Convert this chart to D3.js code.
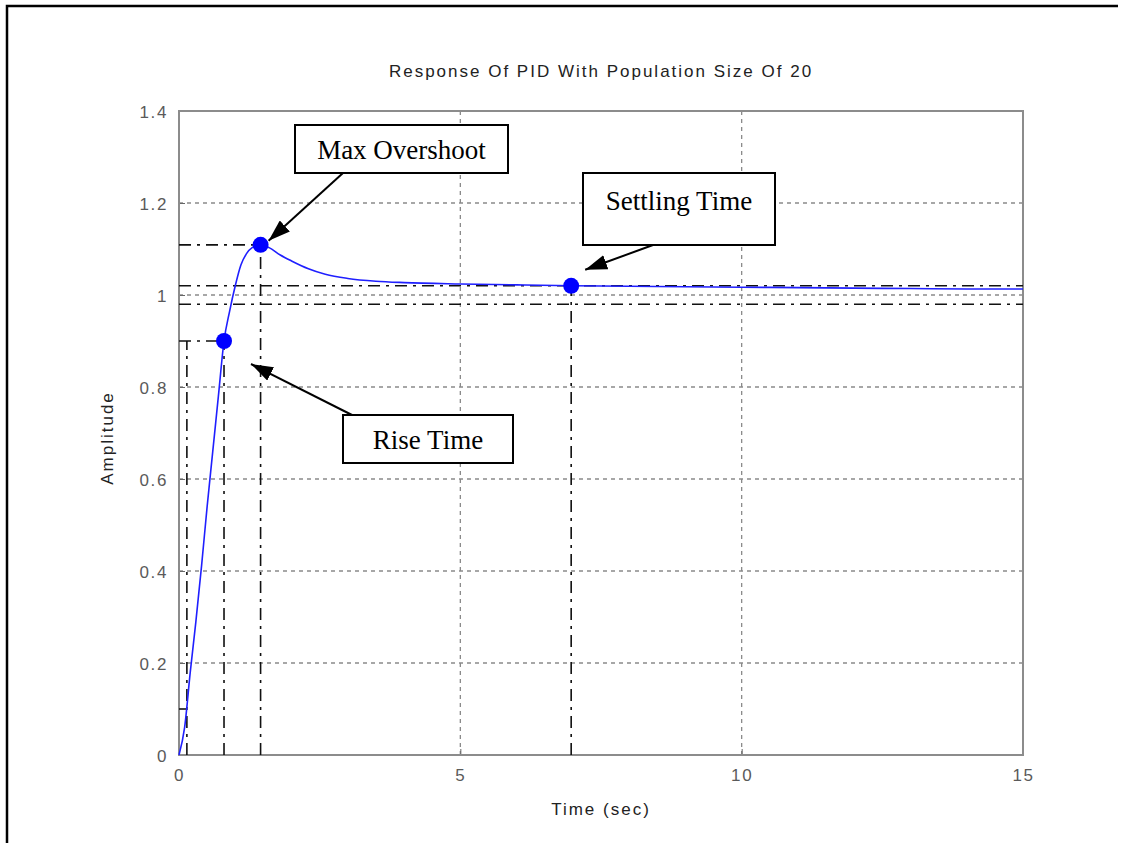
<!DOCTYPE html>
<html>
<head>
<meta charset="utf-8">
<script src="https://cdn.jsdelivr.net/npm/d3@7"></script>
<style>
  html, body { margin: 0; padding: 0; background: #fff; }
  svg { display: block; }
</style>
</head>
<body>
<svg id="chart" width="1127" height="843"></svg>
<script>
// Step response of the PID-controlled loop (time in seconds, amplitude)
const timeSec = [0, 0.1, 0.2, 0.3, 0.4, 0.5, 0.6, 0.7, 0.8, 0.9, 1.0, 1.1, 1.2, 1.3, 1.45,
                 1.6, 1.8, 2.0, 2.3, 2.6, 3.0, 3.5, 4.0, 5.0, 6.0, 7.0, 8.0, 9.0, 10, 11, 12, 13, 14, 15];
const amplitude = [0, 0.06, 0.18, 0.29, 0.41, 0.54, 0.66, 0.78, 0.90, 0.965, 1.02, 1.065, 1.09, 1.103, 1.109,
                   1.103, 1.087, 1.074, 1.057, 1.045, 1.036, 1.030, 1.027, 1.024, 1.022, 1.020, 1.019, 1.018,
                   1.017, 1.016, 1.015, 1.014, 1.013, 1.013];

// Step characteristics
const riseStart = { t: 0.14, y: 0.1 };
const riseEnd = { t: 0.80, y: 0.9 };
const peak = { t: 1.45, y: 1.109 };
const settle = { t: 6.97, y: 1.02 };
const bandUpper = 1.02;
const bandLower = 0.98;

const xTicks = [0, 5, 10, 15];
const yTicks = [0, 0.2, 0.4, 0.6, 0.8, 1, 1.2, 1.4];

const titleText = "Response Of PID With Population Size Of 20";
const xLabel = "Time (sec)";
const yLabel = "Amplitude";

const svg = d3.select("#chart");
const L = 179, R = 1023, T = 111, B = 755;
const sansFont = "Arial, 'Liberation Sans', sans-serif";
const serifFont = "'Liberation Serif', 'Times New Roman', serif";

const x = d3.scaleLinear().domain([0, 15]).range([L, R]);
const y = d3.scaleLinear().domain([0, 1.4]).range([B, T]);

// Outer figure frame (top and left edges)
svg.append("path")
  .attr("d", `M7,843 L7,6 L1118,6`)
  .attr("fill", "none").attr("stroke", "#000").attr("stroke-width", 2.5);

// Grid
const grid = svg.append("g").attr("stroke", "#8a8a8a").attr("stroke-width", 1.3)
  .attr("stroke-dasharray", "4,4");
xTicks.slice(1, -1).forEach(v => {
  grid.append("line").attr("x1", x(v)).attr("x2", x(v)).attr("y1", B).attr("y2", T);
});
yTicks.slice(1, -1).forEach(v => {
  grid.append("line").attr("x1", L).attr("x2", R).attr("y1", y(v)).attr("y2", y(v));
});

// Axes box and tick labels
const xAxis = d3.axisBottom(x).tickValues(xTicks).tickSize(-6).tickPadding(12).tickFormat(d3.format("d"));
const yAxis = d3.axisLeft(y).tickValues(yTicks).tickSize(-6).tickPadding(11)
  .tickFormat(d => d === 0 || d === 1 ? String(d) : d3.format(".1f")(d));

const gx = svg.append("g").attr("transform", `translate(0,${B})`).call(xAxis);
const gy = svg.append("g").attr("transform", `translate(${L},0)`).call(yAxis);
[gx, gy].forEach(g => {
  g.select(".domain").remove();
  g.selectAll(".tick line").attr("stroke", "#666").attr("stroke-width", 1);
  g.selectAll(".tick text").attr("fill", "#5a5a5a").style("font-family", sansFont)
    .style("font-size", "17px").style("letter-spacing", "1.6px");
});
gy.selectAll(".tick text").attr("dy", "0.36em");
gx.selectAll(".tick text").attr("dy", "0.8em");
svg.append("rect").attr("x", L).attr("y", T).attr("width", R - L).attr("height", B - T)
  .attr("fill", "none").attr("stroke", "#8c8c8c").attr("stroke-width", 2);

// Characteristic guide lines (dash-dot)
const guides = svg.append("g").attr("stroke", "#111").attr("stroke-width", 1.6)
  .attr("stroke-dasharray", "12,6,3,6").attr("fill", "none");
const hseg = (t0, t1, v) => guides.append("line").attr("x1", x(t0)).attr("x2", x(t1)).attr("y1", y(v)).attr("y2", y(v));
const vseg = (t, v0, v1) => guides.append("line").attr("x1", x(t)).attr("x2", x(t)).attr("y1", y(v0)).attr("y2", y(v1));
hseg(0, 15, bandUpper);
hseg(0, 15, bandLower);
hseg(0, peak.t, peak.y);
hseg(0, riseEnd.t, riseEnd.y);
hseg(0, riseStart.t, riseStart.y);
vseg(riseStart.t, 0, riseEnd.y);
vseg(riseEnd.t, 0, riseEnd.y);
vseg(peak.t, 0, peak.y);
vseg(settle.t, 0, settle.y);

// Response curve
const line = d3.line().x((d, i) => x(timeSec[i])).y(d => y(d)).curve(d3.curveMonotoneX);
svg.append("path").datum(amplitude).attr("d", line)
  .attr("fill", "none").attr("stroke", "#1f1fff").attr("stroke-width", 1.6);

// Marked points
svg.selectAll("circle.mark").data([riseEnd, peak, settle]).join("circle")
  .attr("class", "mark").attr("cx", d => x(d.t)).attr("cy", d => y(d.y)).attr("r", 8)
  .attr("fill", "#0000ff");

// Title and axis labels
const label = (tx, ty, txt, rot) => svg.append("text")
  .attr("transform", `translate(${tx},${ty})` + (rot ? ` rotate(${rot})` : ""))
  .attr("text-anchor", "middle")
  .style("font-family", sansFont).style("font-size", "17px").style("letter-spacing", "2px")
  .attr("fill", "#222").text(txt);
label(601, 77, titleText);
label(601, 815, xLabel);
label(113, 438, yLabel, -90);

// Annotation boxes with arrows
const defs = svg.append("defs");
defs.append("marker").attr("id", "head").attr("viewBox", "0 0 22 15").attr("refX", 22).attr("refY", 7.5)
  .attr("markerWidth", 22).attr("markerHeight", 15).attr("markerUnits", "userSpaceOnUse").attr("orient", "auto")
  .append("path").attr("d", "M0,0 L22,7.5 L0,15 Z").attr("fill", "#000");

const notes = [
  { text: "Max Overshoot", box: [295, 125, 213, 48], textY: 159, from: [343, 173], to: [x(peak.t) + 8, y(peak.y) - 4] },
  { text: "Settling Time", box: [583, 173, 192, 72], textY: 210, from: [653, 245], to: [x(settle.t) + 14, y(settle.y) - 16] },
  { text: "Rise Time", box: [343, 415, 170, 48], textY: 449, from: [352, 415], to: [251, 364] }
];
notes.forEach(n => {
  svg.append("line").attr("x1", n.from[0]).attr("y1", n.from[1]).attr("x2", n.to[0]).attr("y2", n.to[1])
    .attr("stroke", "#000").attr("stroke-width", 2).attr("marker-end", "url(#head)");
  svg.append("rect").attr("x", n.box[0]).attr("y", n.box[1]).attr("width", n.box[2]).attr("height", n.box[3])
    .attr("fill", "#fff").attr("stroke", "#000").attr("stroke-width", 2);
  svg.append("text").attr("x", n.box[0] + n.box[2] / 2).attr("y", n.textY).attr("text-anchor", "middle")
    .style("font-family", serifFont).style("font-size", "27px").attr("fill", "#000")
    .text(n.text);
});
</script>
</body>
</html>
